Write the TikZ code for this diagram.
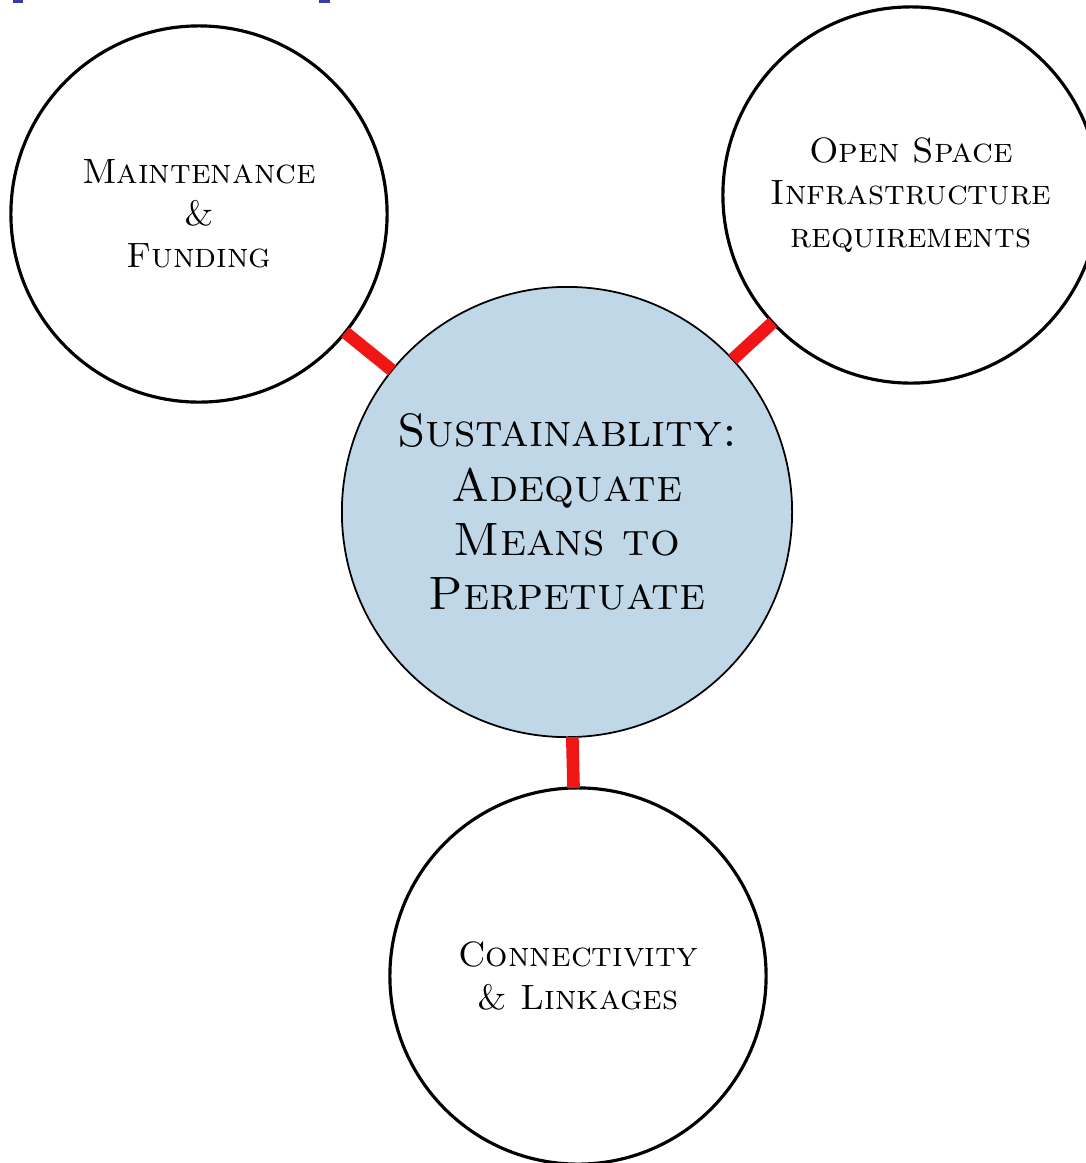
\documentclass[tikz,border=0pt]{standalone}
\usepackage{tikz}
\usetikzlibrary{shapes.geometric, calc}
\usepackage{xcolor}
\definecolor{hubblue}{RGB}{192,215,231}
\definecolor{linkred}{RGB}{240,22,22}
\definecolor{slideblue}{RGB}{58,58,168}

\begin{document}
\begin{tikzpicture}[x=0.01cm, y=-0.01cm]
\tikzstyle{hub} = [circle, minimum size=4.5cm, inner sep=0pt, outer sep=0pt, draw=black, line width=0.5pt, fill=hubblue, align=center, font=\fontsize{13.3}{15.4}\selectfont\scshape]
\tikzstyle{side} = [circle, minimum size=3.76cm, inner sep=0pt, outer sep=0pt, draw=black, line width=0.9pt, fill=white, align=center, font=\fontsize{10}{12}\selectfont\scshape]
\tikzstyle{link} = [line width=3.6pt, linkred]

\useasboundingbox (0,0) rectangle (1086,1163);

% Slide edge marks
\fill[slideblue] (13,0) rectangle (23,3);
\fill[slideblue] (319,0) rectangle (330,3);

% Centre Node
\node (hub) [hub] at (567,512) {Sustainablity:\\Adequate\\Means to\\Perpetuate};

% Outer Nodes
\node (maint) [side] at (199,214) {Maintenance\\\&\\Funding};
\node (space) [side] at (911,195) {Open Space\\Infrastructure\\requirements};
\node (links) [side] at (578,976) {Connectivity\\\& Linkages};

% Red Links
\draw [link] (hub) -- (maint);
\draw [link] (hub) -- (space);
\draw [link] (hub) -- (links);

\end{tikzpicture}
\end{document}
